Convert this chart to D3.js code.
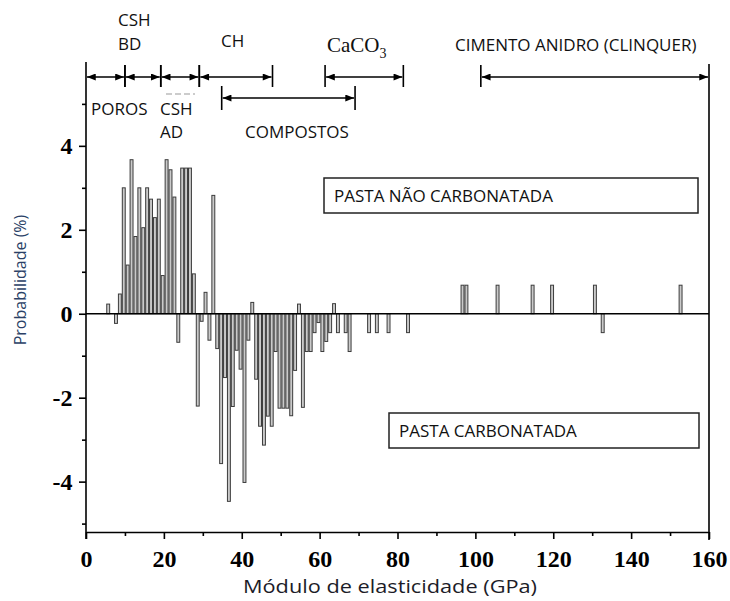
<!DOCTYPE html>
<html>
<head>
<meta charset="utf-8">
<script src="https://cdn.jsdelivr.net/npm/d3@7"></script>
<style>
  body { margin: 0; background: #fff; }
  .tickLabel { font-family: 'Liberation Serif', 'Times New Roman', serif; font-weight: bold; font-size: 24px; fill: #000; }
  .note { font-family: 'Open Sans', sans-serif; font-size: 17px; fill: #111; }
</style>
</head>
<body>
<svg id="chart" width="730" height="601"></svg>
<script>
// bin start (GPa) and probability (%)
const binStart = [5, 7, 8, 9, 10, 11, 12, 13, 14, 15, 16, 17, 18, 19, 20, 21, 22, 23, 24, 25, 26, 27, 28, 29,
  30, 31, 32, 33, 34, 35, 36, 37, 38, 39, 40, 41, 42, 43, 44, 45, 46, 47, 48, 49, 50, 51, 52, 53, 54, 55,
  56, 57, 58, 59, 60, 61, 62, 63, 64, 66, 67, 72, 74, 77, 82, 96, 97, 105, 114, 119, 130, 132, 152];
const probability = [0.23, -0.23, 0.47, 3.0, 1.16, 3.67, 1.84, 3.0, 2.05, 3.0, 2.73, 2.29, 2.73, 0.91, 3.67, 3.43, 2.78, -0.68, 3.47, 3.47, 3.47, 0.95, -2.2, -0.18,
  0.51, -0.63, 2.82, -0.83, -3.57, -1.52, -4.47, -2.21, -0.87, -1.32, -4.02, -0.63, 0.27, -1.56, -2.68, -3.13, -2.44, -2.68, -0.9, -2.25, -2.25, -2.25, -2.43, -1.35, 0.23, -2.23,
  -0.9, -0.9, -0.45, -0.21, -0.9, -0.66, -0.45, 0.24, -0.45, -0.45, -0.9, -0.45, -0.45, -0.45, -0.45, 0.68, 0.68, 0.68, 0.68, 0.68, 0.68, -0.45, 0.68];

const xMajor = [0, 20, 40, 60, 80, 100, 120, 140, 160];
const xMinor = [10, 30, 50, 70, 90, 110, 130, 150];
const yMajor = [-4, -2, 0, 2, 4];
const yMinor = [-5, -3, -1, 1, 3, 5];

// phase ranges on top of the chart (GPa)
const phaseRow1 = [[0, 10], [10, 19.2], [19.2, 29.1], [29.1, 47.9], [61.4, 81.5], [101.4, 160]];
const phaseRow2 = [[34.85, 69.1]];

let svg = d3.select('#chart');

const x = d3.scaleLinear().domain([0, 160]).range([86, 709]);
const y = d3.scaleLinear().domain([-5.2, 5.95]).range([532, 64]);

let data = binStart.map((k, i) => ({ k: k, v: probability[i] }));

// arrow markers
let defs = svg.append('defs');
defs.append('marker')
    .attr('id', 'arrow')
    .attr('viewBox', '0 0 10 8')
    .attr('refX', 10).attr('refY', 4)
    .attr('markerWidth', 10).attr('markerHeight', 7)
    .attr('markerUnits', 'userSpaceOnUse')
    .attr('orient', 'auto-start-reverse')
  .append('path')
    .attr('d', 'M0,0 L10,4 L0,8 Z')
    .attr('fill', '#000');

// bars
let barW = x(0.75) - x(0);
svg.append('g')
  .selectAll('rect')
  .data(data)
  .enter()
  .append('rect')
    .attr('x', d => x(d.k + 0.7) - barW / 2)
    .attr('y', d => y(Math.max(0, d.v)))
    .attr('width', barW)
    .attr('height', d => Math.abs(y(d.v) - y(0)))
    .attr('fill', '#cacaca')
    .attr('stroke', '#3c3c3c')
    .attr('stroke-width', 1);

// zero line
svg.append('line')
    .attr('x1', x(0)).attr('x2', x(160))
    .attr('y1', y(0)).attr('y2', y(0))
    .attr('stroke', '#000').attr('stroke-width', 1.6);

// x axis
let xAxis = svg.append('g')
    .attr('transform', `translate(0,${y(-5.2)})`)
    .call(d3.axisBottom(x).tickValues(xMajor).tickSize(7).tickSizeOuter(0));
svg.append('g')
    .attr('transform', `translate(0,${y(-5.2)})`)
    .call(d3.axisBottom(x).tickValues(xMinor).tickSize(4).tickFormat(''))
    .select('.domain').remove();
xAxis.selectAll('text').attr('class', 'tickLabel').attr('dy', '1.05em').attr('font-size', null).attr('font-family', null);

// y axis
let yAxis = svg.append('g')
    .attr('transform', `translate(${x(0)},0)`)
    .call(d3.axisLeft(y).tickValues(yMajor).tickSize(7).tickSizeOuter(0).tickFormat(d => String(d)));
svg.append('g')
    .attr('transform', `translate(${x(0)},0)`)
    .call(d3.axisLeft(y).tickValues(yMinor).tickSize(4).tickFormat(''))
    .select('.domain').remove();
yAxis.selectAll('text').attr('class', 'tickLabel').attr('dx', '-0.15em').attr('dy', '0.33em').attr('font-size', null).attr('font-family', null);
yAxis.select('.domain').attr('d', `M0,${y(5.95) - 2}V${y(-5.2) + 7}`);

svg.selectAll('.domain, .tick line').attr('stroke', '#000').attr('stroke-width', 1.6);

// right border
svg.append('line')
    .attr('x1', x(160)).attr('x2', x(160))
    .attr('y1', y(5.95)).attr('y2', y(-5.2) + 8)
    .attr('stroke', '#000').attr('stroke-width', 1.6);

// phase arrows
function drawRow(spans, yy, top, bottom) {
  let g = svg.append('g');
  g.selectAll('line.span')
    .data(spans)
    .enter()
    .append('line')
      .attr('class', 'span')
      .attr('x1', d => x(d[0]) + 1).attr('x2', d => x(d[1]) - 1)
      .attr('y1', yy).attr('y2', yy)
      .attr('stroke', '#000').attr('stroke-width', 1.5)
      .attr('marker-start', 'url(#arrow)')
      .attr('marker-end', 'url(#arrow)');
  let edges = [];
  spans.forEach(s => { if (s[0] > 0) edges.push(s[0]); if (s[1] < 160) edges.push(s[1]); });
  g.selectAll('line.edge')
    .data(edges)
    .enter()
    .append('line')
      .attr('class', 'edge')
      .attr('x1', d => x(d)).attr('x2', d => x(d))
      .attr('y1', top).attr('y2', bottom)
      .attr('stroke', '#000').attr('stroke-width', 1.6);
}
drawRow(phaseRow1, 77, 65, 87);
drawRow(phaseRow2, 98, 86, 110);

// labels
let notes = svg.append('g');
const addNote = (tx, ty, s) => notes.append('text').attr('class', 'note').attr('x', tx).attr('y', ty).text(s);
addNote(118, 26, 'CSH');
addNote(118, 50, 'BD');
addNote(221, 47, 'CH');
addNote(455, 51, 'CIMENTO ANIDRO (CLINQUER)');
addNote(91, 115, 'POROS');
addNote(160, 115, 'CSH');
addNote(160, 138, 'AD');
addNote(245, 138, 'COMPOSTOS');

let caco = notes.append('text')
    .attr('x', 327).attr('y', 52)
    .attr('font-family', "'Liberation Serif', 'Times New Roman', serif")
    .attr('font-size', 21).attr('fill', '#111');
caco.append('tspan').text('CaCO');
caco.append('tspan').attr('font-size', 14).attr('dy', 6).text('3');

notes.append('line')
    .attr('x1', 166).attr('x2', 195).attr('y1', 94).attr('y2', 94)
    .attr('stroke', '#999').attr('stroke-width', 1).attr('stroke-dasharray', '6,3');

// legend boxes
let boxes = [
  { x0: 324, y0: 178, x1: 698, y1: 213, label: 'PASTA NÃO CARBONATADA' },
  { x0: 389, y0: 413, x1: 699, y1: 448, label: 'PASTA CARBONATADA' }
];
let box = svg.append('g').selectAll('g').data(boxes).enter().append('g');
box.append('rect')
    .attr('x', d => d.x0).attr('y', d => d.y0)
    .attr('width', d => d.x1 - d.x0).attr('height', d => d.y1 - d.y0)
    .attr('fill', '#fff').attr('stroke', '#222').attr('stroke-width', 1.5);
box.append('text')
    .attr('class', 'note')
    .attr('x', d => d.x0 + 10).attr('y', d => d.y0 + 24)
    .text(d => d.label);

// axis titles
svg.append('text')
    .attr('x', 243).attr('y', 593)
    .attr('font-family', "'Open Sans', sans-serif").attr('font-size', 19)
    .attr('textLength', 294).attr('lengthAdjust', 'spacingAndGlyphs')
    .attr('fill', '#1c1c28')
    .text('Módulo de elasticidade (GPa)');
svg.append('text')
    .attr('transform', `translate(26,${280}) rotate(-90)`)
    .attr('text-anchor', 'middle')
    .attr('font-family', "'Open Sans', sans-serif").attr('font-size', 16)
    .attr('fill', '#2a3f66')
    .text('Probabilidade (%)');
</script>
</body>
</html>
